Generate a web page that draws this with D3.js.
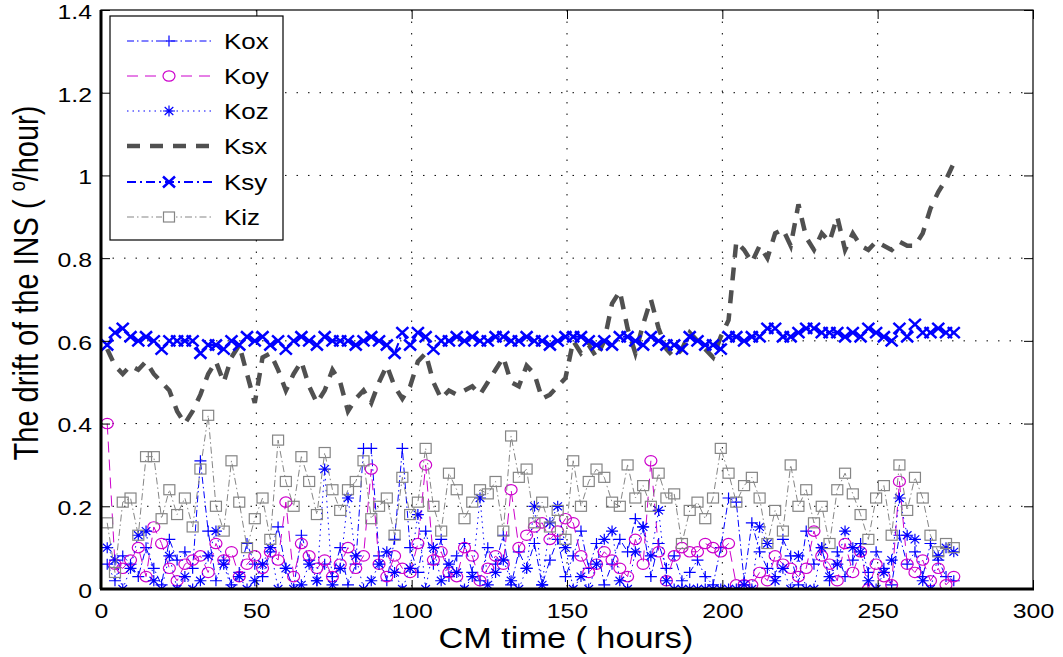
<!DOCTYPE html>
<html><head><meta charset="utf-8">
<script src="https://cdn.jsdelivr.net/npm/d3@7"></script>
<style>
body{margin:0;background:#fff;}
svg{display:block;font-family:"Liberation Sans",Arial,Helvetica,sans-serif;}
</style></head>
<body><svg id="c" width="1063" height="657"></svg>
<script>
// ---------- DATA ----------
const times = [2,4.5,7,9.5,12,14.5,17,19.5,22,24.5,27,29.5,32,34.5,37,39.5,42,44.5,47,49.5,
52,54.5,57,59.5,62,64.5,67,69.5,72,74.5,77,79.5,82,84.5,87,89.5,92,94.5,97,99.5,
102,104.5,107,109.5,112,114.5,117,119.5,122,124.5,127,129.5,132,134.5,137,139.5,142,144.5,147,149.5,
152,154.5,157,159.5,162,164.5,167,169.5,172,174.5,177,179.5,182,184.5,187,189.5,192,194.5,197,199.5,
202,204.5,207,209.5,212,214.5,217,219.5,222,224.5,227,229.5,232,234.5,237,239.5,242,244.5,247,249.5,
252,254.5,257,259.5,262,264.5,267,269.5,272,274.5];

const Kox = [0.06,0.02,0.08,0.06,0.03,0.10,0.05,0.01,0.12,0.07,
0.09,0.05,0.31,0.14,0.02,0.07,0.01,0.04,0.11,0.06,
0.03,0.09,0.15,0.05,0.00,0.13,0.07,0.02,0.06,0.03,
0.10,0.01,0.06,0.34,0.34,0.08,0.02,0.12,0.34,0.10,
0.04,0.14,0.06,0.12,0.03,0.08,0.11,0.04,0.02,0.10,
0.06,0.13,0.01,0.09,0.05,0.11,0.01,0.07,0.12,0.03,
0.08,0.14,0.05,0.11,0.01,0.06,0.12,0.09,0.17,0.15,
0.03,0.11,0.05,0.08,0.02,0.04,0.07,0.03,0.01,0.10,
0.22,0.21,0.02,0.16,0.09,0.05,0.03,0.12,0.08,0.01,
0.14,0.06,0.10,0.02,0.09,0.03,0.07,0.11,0.04,0.09,
0.05,0.01,0.13,0.06,0.09,0.03,0.11,0.07,0.03,0.02];

const Koy = [0.40,0.06,0.05,0.07,0.10,0.03,0.15,0.11,0.05,0.02,
0.06,0.07,0.08,0.04,0.11,0.07,0.09,0.03,0.06,0.08,
0.05,0.09,0.07,0.21,0.03,0.11,0.08,0.05,0.07,0.03,
0.06,0.10,0.05,0.08,0.29,0.06,0.03,0.08,0.05,0.04,
0.11,0.30,0.07,0.09,0.04,0.03,0.10,0.08,0.02,0.05,
0.08,0.06,0.24,0.10,0.13,0.15,0.16,0.12,0.14,0.17,
0.16,0.08,0.04,0.06,0.09,0.07,0.05,0.03,0.12,0.06,
0.31,0.09,0.02,0.08,0.10,0.09,0.09,0.11,0.10,0.09,
0.11,0.01,0.01,0.01,0.04,0.02,0.08,0.06,0.05,0.03,
0.05,0.14,0.08,0.06,0.02,0.11,0.04,0.09,0.00,0.06,
0.03,0.01,0.26,0.06,0.04,0.07,0.02,0.05,0.01,0.03];

const Koz = [0.10,0.07,0.00,0.05,0.13,0.14,0.02,0.00,0.08,0.00,
0.03,0.00,0.02,0.08,0.14,0.06,0.00,0.03,0.00,0.02,
0.06,0.10,0.00,0.05,0.00,0.01,0.06,0.02,0.29,0.01,
0.05,0.22,0.08,0.00,0.02,0.06,0.09,0.04,0.00,0.05,
0.18,0.00,0.10,0.02,0.06,0.04,0.00,0.03,0.22,0.01,
0.04,0.07,0.02,0.00,0.05,0.20,0.01,0.16,0.20,0.10,
0.00,0.03,0.00,0.06,0.12,0.14,0.02,0.00,0.09,0.15,
0.08,0.19,0.02,0.00,0.00,0.00,0.00,0.00,0.00,0.00,
0.00,0.00,0.01,0.00,0.15,0.11,0.02,0.05,0.00,0.08,
0.00,0.00,0.10,0.03,0.06,0.14,0.10,0.09,0.02,0.00,
0.04,0.07,0.22,0.13,0.12,0.02,0.00,0.08,0.10,0.09];

const Ksx = [0.58,0.54,0.52,0.54,0.53,0.55,0.52,0.50,0.48,0.43,
0.40,0.43,0.47,0.52,0.55,0.50,0.56,0.59,0.52,0.45,
0.56,0.57,0.53,0.48,0.52,0.55,0.49,0.45,0.48,0.53,
0.50,0.43,0.46,0.48,0.45,0.50,0.54,0.49,0.46,0.49,
0.55,0.57,0.50,0.46,0.48,0.47,0.48,0.49,0.47,0.50,
0.53,0.56,0.50,0.49,0.54,0.52,0.46,0.47,0.49,0.51,
0.60,0.57,0.59,0.56,0.60,0.69,0.72,0.63,0.57,0.64,
0.70,0.63,0.58,0.56,0.58,0.62,0.60,0.58,0.56,0.61,
0.65,0.84,0.82,0.79,0.83,0.80,0.86,0.87,0.83,0.93,
0.85,0.82,0.86,0.84,0.90,0.82,0.86,0.83,0.82,0.84,
0.83,0.82,0.84,0.83,0.83,0.86,0.92,0.96,0.99,1.03];

const Ksy = [0.59,0.62,0.63,0.61,0.60,0.61,0.60,0.58,0.60,0.60,
0.60,0.60,0.57,0.59,0.59,0.58,0.60,0.59,0.61,0.60,
0.61,0.59,0.60,0.58,0.60,0.61,0.60,0.59,0.61,0.60,
0.60,0.60,0.59,0.60,0.61,0.60,0.59,0.57,0.62,0.59,
0.62,0.61,0.58,0.60,0.60,0.61,0.60,0.61,0.60,0.60,
0.61,0.61,0.60,0.60,0.61,0.60,0.60,0.59,0.60,0.61,
0.61,0.61,0.60,0.59,0.60,0.59,0.61,0.61,0.60,0.59,
0.61,0.60,0.59,0.59,0.58,0.61,0.60,0.59,0.59,0.58,
0.61,0.61,0.60,0.61,0.61,0.63,0.63,0.61,0.61,0.62,
0.63,0.63,0.62,0.62,0.62,0.61,0.62,0.61,0.63,0.62,
0.61,0.60,0.63,0.61,0.64,0.62,0.62,0.63,0.62,0.62];

const Kiz = [0.16,0.04,0.21,0.22,0.13,0.32,0.32,0.17,0.24,0.18,
0.22,0.15,0.29,0.42,0.20,0.14,0.31,0.21,0.10,0.17,
0.22,0.12,0.36,0.26,0.20,0.32,0.26,0.18,0.33,0.24,
0.19,0.24,0.26,0.31,0.17,0.20,0.22,0.13,0.27,0.18,
0.21,0.34,0.20,0.14,0.28,0.24,0.17,0.21,0.24,0.23,
0.26,0.14,0.37,0.27,0.29,0.16,0.21,0.15,0.19,0.12,
0.31,0.20,0.26,0.29,0.27,0.21,0.20,0.30,0.22,0.25,
0.20,0.28,0.22,0.23,0.11,0.19,0.21,0.17,0.22,0.34,
0.28,0.21,0.25,0.27,0.22,0.11,0.19,0.14,0.30,0.20,
0.24,0.16,0.20,0.11,0.24,0.28,0.23,0.18,0.12,0.22,
0.25,0.13,0.30,0.19,0.27,0.22,0.13,0.09,0.11,0.10];

const seriesNames = ["Kox","Koy","Koz","Ksx","Ksy","Kiz"];
const xTicks = [0,50,100,150,200,250,300];
const yTicks = [0,0.2,0.4,0.6,0.8,1,1.2,1.4];
const xTitle = "CM time ( hours)";

// ---------- STYLES ----------
const styles = {
  Kox:{color:"#0000ff", width:1, dash:"7,3,1.5,3", marker:"plus"},
  Koy:{color:"#cc00cc", width:1, dash:"11,7", marker:"circle"},
  Koz:{color:"#0000ff", width:1, dash:"1.5,4", marker:"star"},
  Ksx:{color:"#505050", width:4.5, dash:"13,10", marker:null},
  Ksy:{color:"#0000ff", width:2, dash:"9,4,2,4", marker:"x"},
  Kiz:{color:"#858585", width:1, dash:"7,3,1.5,3", marker:"square"}
};
const dataMap = {Kox, Koy, Koz, Ksx, Ksy, Kiz};
const SX = 1.18; // horizontal glyph stretch of the reference

// ---------- LAYOUT ----------
const svg = d3.select("#c");
const L=101, T=10, R=1033, B=589;
const x = d3.scaleLinear().domain([0,300]).range([L,R]);
const y = d3.scaleLinear().domain([0,1.4]).range([B,T]);

function stretch(sel, k){
  sel.each(function(){
    const len = this.getComputedTextLength();
    d3.select(this).attr("textLength", len*k).attr("lengthAdjust","spacingAndGlyphs");
  });
}

// grid
const g = svg.append("g");
g.selectAll(".gx").data(xTicks.slice(1,-1)).join("line")
  .attr("x1",d=>x(d)).attr("x2",d=>x(d)).attr("y1",T).attr("y2",B)
  .attr("stroke","#000").attr("stroke-width",1).attr("stroke-dasharray","1.5,10");
g.selectAll(".gy").data(yTicks.slice(1,-1)).join("line")
  .attr("y1",d=>y(d)).attr("y2",d=>y(d)).attr("x1",L).attr("x2",R)
  .attr("stroke","#000").attr("stroke-width",1).attr("stroke-dasharray","1.5,10");

// clip
svg.append("clipPath").attr("id","clip").append("rect")
  .attr("x",L).attr("y",T).attr("width",R-L).attr("height",B-T);
const plot = svg.append("g").attr("clip-path","url(#clip)");

function drawMarker(sel, type, color, sw){
  const a=6, b=5.5;
  if(type==="plus"){
    sel.append("path").attr("d",`M${-a},0H${a}M0,${-b}V${b}`).attr("stroke",color).attr("stroke-width",sw).attr("fill","none");
  } else if(type==="x"){
    sel.append("path").attr("d",`M${-a},${-b}L${a},${b}M${-a},${b}L${a},${-b}`).attr("stroke",color).attr("stroke-width",sw).attr("fill","none");
  } else if(type==="star"){
    const c=a*0.72, d=b*0.72;
    sel.append("path").attr("d",`M${-a},0H${a}M0,${-b}V${b}M${-c},${-d}L${c},${d}M${-c},${d}L${c},${-d}`).attr("stroke",color).attr("stroke-width",sw).attr("fill","none");
  } else if(type==="circle"){
    sel.append("ellipse").attr("rx",6).attr("ry",5.2).attr("stroke",color).attr("stroke-width",sw).attr("fill","none");
  } else if(type==="square"){
    sel.append("rect").attr("x",-5.5).attr("y",-5).attr("width",11).attr("height",10).attr("stroke",color).attr("stroke-width",sw).attr("fill","none");
  }
}

const line = d3.line().x(d=>x(d[0])).y(d=>y(d[1]));
seriesNames.forEach(name=>{
  const st = styles[name];
  const pts = times.map((t,i)=>[t,dataMap[name][i]]);
  plot.append("path").datum(pts).attr("d",line)
    .attr("fill","none").attr("stroke",st.color).attr("stroke-width",st.width)
    .attr("stroke-dasharray",st.dash);
  if(st.marker){
    const mg = plot.append("g");
    pts.forEach(p=>{
      const m = mg.append("g").attr("transform",`translate(${x(p[0])},${y(p[1])})`);
      drawMarker(m, st.marker, st.color, name==="Ksy"?2.5:1.2);
    });
  }
});

// axes box & ticks
const ax = svg.append("g");
ax.append("rect").attr("x",L).attr("y",T).attr("width",R-L).attr("height",B-T)
  .attr("fill","none").attr("stroke","#000").attr("stroke-width",1.2);
ax.append("line").attr("x1",L-1).attr("x2",R+1).attr("y1",B).attr("y2",B).attr("stroke","#000").attr("stroke-width",3);
ax.append("line").attr("x1",L).attr("x2",L).attr("y1",T).attr("y2",B).attr("stroke","#000").attr("stroke-width",3);

const xAxis = d3.axisBottom(x).tickValues(xTicks).tickSize(-9).tickPadding(15).tickFormat(d3.format("d"));
const xa = svg.append("g").attr("transform",`translate(0,${B})`).call(xAxis);
const yAxis = d3.axisLeft(y).tickValues(yTicks).tickSize(-9).tickPadding(18).tickFormat(d=>d3.format("")(+d.toFixed(1)));
const ya = svg.append("g").attr("transform",`translate(${L},0)`).call(yAxis);
[xa,ya].forEach(a=>{
  a.select(".domain").remove();
  a.selectAll("text").attr("fill","#000").attr("font-family","Liberation Sans, Arial, sans-serif");
  a.selectAll(".tick line").attr("stroke","#000");
});
xa.selectAll("text").attr("font-size",21).attr("dy","0.68em");
ya.selectAll("text").attr("font-size",20).attr("x",-9).attr("y",2);
stretch(xa.selectAll("text"), SX);
stretch(ya.selectAll("text"), SX*1.05);
// top & right ticks
const xa2 = svg.append("g").attr("transform",`translate(0,${T})`).call(d3.axisTop(x).tickValues(xTicks).tickSize(-9).tickFormat(""));
const ya2 = svg.append("g").attr("transform",`translate(${R},0)`).call(d3.axisRight(y).tickValues(yTicks).tickSize(-9).tickFormat(""));
[xa2,ya2].forEach(a=>a.select(".domain").remove());

// axis titles
const xt = svg.append("text").attr("x",(L+R)/2 - 1).attr("y",648).attr("text-anchor","middle")
  .attr("font-size",29).attr("fill","#000").text(xTitle);
stretch(xt, SX);
const yt = svg.append("text").attr("transform",`translate(38,283) rotate(-90) scale(1,${SX})`)
  .attr("text-anchor","middle").attr("font-size",29).attr("fill","#000");
yt.append("tspan").text("The drift of the INS ( ");
yt.append("tspan").attr("font-size",18).attr("dy",-11).text("o");
yt.append("tspan").attr("dy",11).text("/hour)");

// legend
const lg = svg.append("g");
lg.append("rect").attr("x",110).attr("y",16).attr("width",173).attr("height",224)
  .attr("fill","#fff").attr("stroke","#000").attr("stroke-width",1.2);
const ly = [41,76,111,146,182,217];
seriesNames.forEach((name,i)=>{
  const st = styles[name];
  lg.append("line").attr("x1",127).attr("x2",212).attr("y1",ly[i]).attr("y2",ly[i])
    .attr("stroke",st.color).attr("stroke-width",st.width).attr("stroke-dasharray",st.dash);
  if(st.marker){
    const m = lg.append("g").attr("transform",`translate(169,${ly[i]})`);
    if(st.marker==="circle"||st.marker==="square") m.append("rect").attr("x",-7).attr("y",-7).attr("width",14).attr("height",14).attr("fill","#fff");
    drawMarker(m, st.marker, st.color, name==="Ksy"?2.5:1.2);
  }
  const tx = lg.append("text").attr("x",224).attr("y",ly[i]+8).attr("font-size",22).attr("fill","#000").text(name);
  stretch(tx, SX);
});
</script>
</body></html>
